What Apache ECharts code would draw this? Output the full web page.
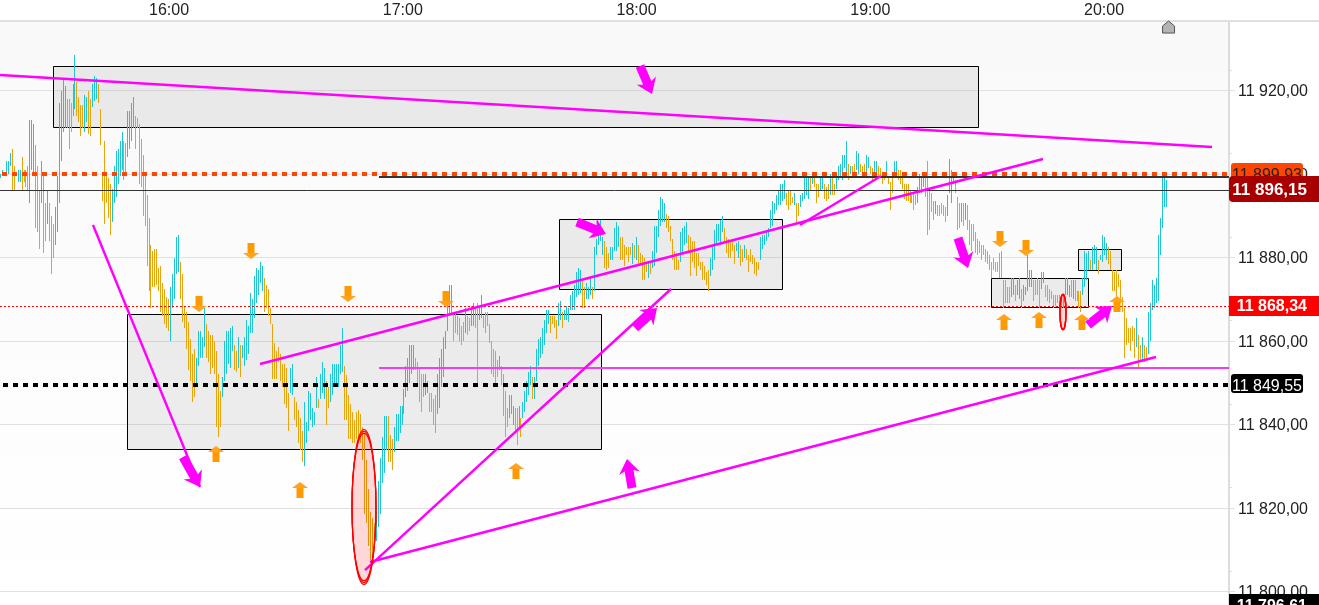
<!DOCTYPE html>
<html><head><meta charset="utf-8">
<style>html,body{margin:0;padding:0;background:#fff}#c{width:1319px;height:605px}</style>
<script src="https://cdn.jsdelivr.net/npm/echarts@6/dist/echarts.min.js"></script>
</head><body><div id="c"></div>
<script>
// Axis ranges: time in minutes of the day, price in index points
const timeMin = 916.62, timeMax = 1232.08, priceMin = 11796.77, priceMax = 11936.65;
const timeTicks = [960, 1020, 1080, 1140, 1200];
const priceTicks = [11800, 11820, 11840, 11860, 11880, 11900, 11920];
const minorPriceTicks = [11805, 11825, 11845, 11865, 11885, 11905, 11925];
// Bars: [high, low, up(1)/down(0)], each run spans the given first and last bar time
const barsASpan = [916.62, 954.86];
const barsA = [[11900,11899,1],[11901,11900,1],[11900.5,11899.5,0],[11903,11900,1],[11903,11900,1],[11905,11902,1],[11906,11896,0],[11902,11896,0],[11900,11899.5,0],[11901,11898,1],[11901,11898,1],[11904,11896,0],[11901,11898,0],[11901,11897,0],[11902,11896,0],[11913,11893,1],[11913,11901,1],[11912,11900,1],[11907,11887,0],[11902,11886,0],[11896,11882,0],[11903,11893,1],[11900,11881,0],[11893,11884,0],[11896,11888,1],[11893,11884,0],[11890,11876,0],[11888,11880,0],[11892,11883,1],[11899.5,11886,1],[11917,11893,1],[11920,11903,1],[11923,11910,1],[11921,11911,1],[11918,11911,0],[11918,11906,0],[11917,11910,0],[11921.5,11914,1],[11928.5,11915.5,1],[11922,11914,0],[11918.5,11912.5,0],[11916.5,11909,0],[11916.5,11911,0],[11919,11910,1],[11918.5,11912.5,1],[11920,11909.5,0],[11918,11909,0],[11921.5,11916,1],[11923.5,11917.5,1],[11923,11918,1],[11921.5,11917,0],[11915.5,11907,0],[11900.5,11893.5,0],[11908,11888,0],[11900.5,11893,0],[11899,11889.5,0],[11897.5,11885.5,0],[11896.5,11888.5,1],[11902,11893,1],[11905.5,11894.5,1],[11906,11897.5,1],[11908,11899.5,1],[11910,11901,1],[11908,11898.5,0],[11907.5,11900,0],[11915,11904,1],[11915,11906,1],[11917,11908,1],[11918.5,11911,1],[11914,11906,0],[11913.5,11911,0],[11912,11897.5,0],[11908.5,11897,0],[11904.5,11890,0],[11900,11887.5,0],[11895,11878,0],[11889.5,11872,0]];
const barsBSpan = [955.12, 1004.4];
const barsB = [[11883,11868,0],[11881.5,11873,0],[11882,11873,0],[11882,11873.5,0],[11877.5,11872,0],[11878,11867,0],[11874,11866,0],[11872.5,11864,0],[11870.5,11863,0],[11870,11862.5,0],[11873,11860,1],[11876,11868,1],[11880,11870,1],[11885,11876,1],[11885.5,11876.5,1],[11879,11870,0],[11876,11864.5,0],[11868.5,11863,0],[11867,11858,0],[11864.5,11853,0],[11860.5,11850.5,0],[11857,11845.5,0],[11858,11846.5,0],[11856,11850,1],[11862.5,11854,1],[11862.5,11856,1],[11861,11856,1],[11868,11858.5,1],[11864,11856,0],[11862.5,11855,0],[11861.5,11852,0],[11861.5,11853.5,0],[11860,11852,0],[11857.5,11839.5,0],[11852,11837,0],[11848,11839.5,0],[11851.5,11846.5,1],[11860,11850.5,1],[11862.5,11852,1],[11862.5,11854.5,1],[11863,11853.5,1],[11863.5,11857.5,1],[11859,11853,0],[11857.5,11852.5,0],[11861,11853.5,1],[11859,11851.5,0],[11859,11856,1],[11861,11854,1],[11865,11855.5,1],[11863.5,11857,1],[11871.5,11862,1],[11870,11862,1],[11875.5,11865.5,1],[11877.5,11869,1],[11877,11871,1],[11879,11874,1],[11878,11872,1],[11875,11867,0],[11873.5,11868,0],[11872.5,11866,0],[11868,11864,0],[11864,11851,0],[11859.5,11851,0],[11857.5,11851,0],[11858.5,11855,0],[11857,11850.5,0],[11854.5,11849,0],[11854.5,11845,0],[11853.5,11844,0],[11847.5,11838.5,0],[11853.5,11847.5,1],[11854.5,11847,1],[11846.5,11841,0],[11845.5,11839.5,0],[11843.5,11835.5,0],[11841.5,11834,0],[11838.5,11831,0],[11845.5,11830,1],[11840.5,11835.5,1],[11848,11838.5,1],[11847.5,11841,1],[11844,11839.5,1],[11843,11840,1],[11851.5,11844,1],[11846,11844,0],[11852,11846,1],[11855,11847.5,1],[11853.5,11846,1],[11850.5,11840,0],[11849,11844,0],[11852,11845.5,1],[11854.5,11847,1],[11854.5,11849,1],[11854.5,11849.5,1],[11854.5,11849,1],[11859,11852,1],[11863,11852.5,1]];
const barsCSpan = [1004.92, 1063.96];
const barsC = [[11854,11841,0],[11851.8,11841,0],[11847,11836.5,0],[11845,11836.5,0],[11843,11835.5,0],[11841,11835.5,0],[11843,11836.5,0],[11843.5,11836,0],[11842.5,11835.5,0],[11839.5,11831.5,0],[11838,11818.5,0],[11831.5,11816.5,0],[11824.5,11811,0],[11819,11807.5,0],[11817.5,11807,0],[11816.5,11812,0],[11819,11812,1],[11826.5,11815.5,1],[11832,11818.5,1],[11837,11826,1],[11842,11828.5,1],[11842,11834,1],[11842,11831,0],[11837.5,11831,0],[11836.5,11829,0],[11839.5,11833.5,1],[11842.5,11836,1],[11842.5,11836,1],[11844.5,11838,1],[11844.5,11840,1],[11848.5,11842.5,1],[11854,11846.5,1],[11856,11848,1],[11859,11850,1],[11859,11852,1],[11859,11853,1],[11856,11853,0],[11855,11850,0],[11853.5,11845.5,0],[11852,11843,0],[11852,11846.5,0],[11852,11847,1],[11850.5,11847.5,1],[11847.5,11843,0],[11847.5,11843,0],[11846,11840,0],[11847,11838,0],[11852,11842.5,1],[11856,11844,1],[11858,11849,1],[11861,11851.5,1],[11862.5,11858,1],[11869,11862.5,1],[11873.5,11866,1],[11873.5,11866.5,1],[11867,11860,0],[11867,11862,0],[11866,11861.5,0],[11865.5,11860,0],[11863.5,11859,0],[11864.5,11860,0],[11868,11862,1],[11866,11861.5,0],[11865.5,11862.5,0],[11868.5,11863.5,1],[11869,11863.5,1],[11868,11863,0],[11869,11850,0],[11868.5,11865,1],[11871,11865.5,1],[11866,11863,0],[11867,11862,0],[11867,11863.5,0],[11864,11859.5,0],[11860,11852,0],[11858,11851.5,0],[11857.5,11850,0],[11855.5,11851.5,0],[11856.5,11853,1],[11854,11849.5,0],[11852,11842,0],[11848,11837,0],[11844,11839.5,0],[11847,11841.5,1],[11847,11842.5,1],[11844.5,11840,1],[11844,11838,0],[11844,11835,0],[11844.5,11839,1],[11841.5,11837,0],[11845.5,11841.5,1],[11848,11843,1],[11850.5,11845.5,1],[11852.5,11847,1],[11854,11849.5,1],[11851.5,11846,0],[11851.5,11846,1],[11858,11850.5,1],[11860.5,11854,1],[11861,11856,1],[11863,11857,1],[11865,11859,1],[11867.5,11862,1],[11867.5,11864,1],[11866,11862,0],[11866,11864,0],[11866,11863,0],[11865,11860.5,0],[11869,11863.5,1],[11869.5,11865,1],[11867,11863,0],[11867.5,11865,1],[11868.5,11865,1],[11868,11864.5,1],[11871,11867.5,1],[11872,11867.5,1],[11873.5,11867.5,1]];
const barsDSpan = [1064.47, 1129.15];
const barsD = [[11876.5,11870.5,1],[11877.5,11871,1],[11877,11871.5,1],[11874.5,11868,0],[11873,11868,0],[11874,11870,1],[11873,11870,1],[11875,11871,1],[11873,11870,0],[11882.5,11872,1],[11884.5,11880.5,1],[11887.5,11883,1],[11889,11884,1],[11885,11880.5,1],[11884,11877.5,0],[11882.5,11877,0],[11881,11877.5,0],[11882.5,11879.5,1],[11882.5,11879.5,1],[11887,11881.5,1],[11888.5,11881.5,1],[11887.5,11882.5,1],[11885,11879.5,0],[11885,11879.5,0],[11883,11878,0],[11882.5,11880.5,0],[11882.5,11879,0],[11882.5,11880.5,0],[11883.5,11878.5,1],[11883,11880,0],[11885,11879.5,1],[11883,11878.5,0],[11881,11878.5,0],[11880.5,11874.5,0],[11880,11874.5,0],[11879,11876.5,0],[11879,11875,1],[11879,11876,0],[11881.5,11877.5,1],[11887.5,11878,1],[11887.5,11881,1],[11891.5,11885,1],[11894.5,11887.5,1],[11894,11888.5,1],[11893,11888.5,1],[11890.5,11887,0],[11890,11886,0],[11887.5,11884,0],[11884.5,11879.5,0],[11881.5,11877,0],[11881,11877,0],[11879.5,11877,0],[11886,11879,1],[11887,11881,1],[11887.5,11883,1],[11888.5,11883.5,1],[11885.5,11881.5,0],[11885,11875.5,0],[11884,11879,0],[11884,11877.5,0],[11881,11875.5,0],[11881,11878,0],[11879,11877,0],[11879,11874.5,0],[11878,11874.5,0],[11876.5,11873.5,0],[11877,11872,0],[11880,11875.5,1],[11882.5,11877,1],[11886.5,11879.5,1],[11888,11883,1],[11888,11884,1],[11889,11883,1],[11890,11886,1],[11887,11884,0],[11885,11881,0],[11884.5,11880,0],[11884,11880,0],[11884.5,11881.5,0],[11883,11878.5,0],[11883.5,11881.5,1],[11884,11880,1],[11883,11878,0],[11882,11879,0],[11883,11880,1],[11882,11879.5,0],[11880.5,11876.5,0],[11882,11879,0],[11880.5,11878.5,0],[11880,11876,0],[11879,11875.5,0],[11879,11877,0],[11885,11879.5,1],[11885.5,11882,1],[11885.5,11883,1],[11886.5,11884,1],[11887,11885,1],[11891.5,11887,1],[11893.5,11887.5,1],[11893,11890.5,1],[11895,11891.5,1],[11896,11892.5,1],[11897.5,11892.5,1],[11897.5,11893.5,1],[11898.5,11894,1],[11895.5,11892.5,0],[11896,11891.5,0],[11896,11892.5,0],[11894.5,11893,0],[11895.5,11892.5,1],[11893,11888,0],[11893,11890,0],[11895,11892,1],[11895.5,11893.5,1],[11899.5,11894,1],[11899,11895,1],[11899,11894,1],[11899,11896,0],[11900.5,11897.5,1],[11899,11897,0],[11897.5,11893,0],[11897.5,11894.5,0],[11899,11896,1],[11899,11896.5,1],[11897.5,11894,0],[11897,11893.5,0],[11897.5,11894,0]];
const barsESpan = [1129.66, 1215.9];
const barsE = [[11900,11895,1],[11899,11895,0],[11897.5,11895,0],[11899,11896.5,1],[11902,11898.5,1],[11902.5,11899.5,1],[11904.5,11898.5,1],[11904.5,11901.5,1],[11908,11900.5,1],[11902.5,11898.5,0],[11902,11900,1],[11902,11900.5,0],[11902.5,11900.5,0],[11905.5,11901,1],[11905,11900,1],[11902.5,11900.5,0],[11902,11900.5,0],[11902.5,11900,0],[11904.5,11899.5,1],[11904,11901.5,1],[11902,11900,0],[11901.5,11898,0],[11903,11900,1],[11903,11900,1],[11902,11899.5,0],[11901.5,11899.5,0],[11900.5,11897.5,0],[11900,11898.5,0],[11903,11899,1],[11899.5,11897.5,0],[11898,11891.5,0],[11900,11895.5,0],[11903,11900,1],[11903,11900,1],[11901,11898.5,0],[11901,11897.5,0],[11899.5,11896.5,0],[11897.5,11894,0],[11897.5,11893.5,0],[11897.5,11893.5,0],[11896,11893,0],[11895,11893,0],[11895.5,11891.5,0],[11895,11892.5,0],[11897,11893,1],[11900,11895.5,1],[11899.5,11895.5,1],[11899,11897,1],[11900.5,11894.5,0],[11903,11885.5,0],[11896,11886.5,0],[11895.5,11891,0],[11893.5,11889,0],[11893.5,11890.5,1],[11892.5,11890,0],[11892.5,11890,0],[11893,11890.5,0],[11892.5,11890,0],[11892,11888.5,0],[11895,11890,1],[11903.5,11895.5,1],[11901,11893,1],[11900.5,11897.5,1],[11898.5,11895.5,0],[11894.5,11886.5,0],[11893,11887,0],[11893,11888.5,1],[11893,11887.5,0],[11893,11889,1],[11892.5,11886.5,0],[11889,11883,0],[11888,11881.5,0],[11888,11884,0],[11886,11881,0],[11884.5,11880.5,0],[11884,11881,0],[11883,11879.5,0],[11883,11880.5,0],[11882,11879,0],[11881.5,11878.5,0],[11880.5,11877,0],[11879,11875,0],[11880,11877,0],[11879,11876.5,0],[11879,11876.5,0],[11881,11875,0],[11881.5,11875,0],[11874.5,11868,0],[11874.5,11869,0],[11873,11869,0],[11873,11869,0],[11875,11870.5,1],[11875,11871,1],[11873.5,11869.5,0],[11874.5,11871,1],[11875,11870,1],[11872.5,11868,0],[11873.5,11869.5,1],[11873,11871,1],[11880.5,11872,1],[11877,11873,1],[11877,11873,1],[11874.5,11869.5,0],[11874.5,11871,0],[11875,11871,0],[11874.5,11868,0],[11876.5,11872.5,1],[11876.5,11874,1],[11873.5,11870.5,0],[11873.5,11869.5,0],[11872.5,11869,0],[11872,11870,0],[11871,11868,0],[11871,11868.5,0],[11871,11869,0],[11871,11868,0],[11871,11868,0],[11871,11868,0],[11875,11871,1],[11875,11871,1],[11873.5,11870.5,1],[11874.5,11870.5,0],[11874.5,11870,1],[11874.5,11869.5,0],[11872,11869.5,0],[11872,11868,0],[11872,11867,0],[11875,11871,1],[11881.5,11873,1],[11881,11874.5,1],[11881.5,11877,1],[11879.5,11877,0],[11882.5,11877,1],[11883,11878.5,1],[11882.5,11877,1],[11879.5,11876,0],[11880.5,11879.5,1],[11885.5,11879,1],[11885,11880.5,1],[11883.5,11879.5,1],[11882.5,11878.5,0],[11881.5,11877,0],[11877,11872,0],[11876.5,11872,0],[11877,11870.5,0],[11876,11873,0],[11874.5,11869,0],[11870.5,11867,0],[11868,11856,0],[11865.5,11859,0],[11863,11859.5,0],[11863,11857.5,0],[11863.5,11860,0],[11863,11856,0],[11865.5,11858.5,1],[11861.5,11853.5,0],[11859,11855,0],[11861,11855.5,1],[11859,11855,0],[11858.5,11855.5,0],[11867,11857,1],[11869,11860,1],[11874.5,11867.5,1],[11873.5,11868,1],[11875,11869,1],[11885.5,11869.5,1],[11889.5,11880.5,1],[11899,11887,1],[11899.5,11892,1],[11898.5,11892,1]];
// Price reference levels: [price, start time]
const levelOrange = [11900, 917.13];
const levelBlack = [11849.46, 917.39];
const levelRed = [11868.26, 916.62];
const levelClose = [11896.05, 916.62];
const levelDark = [11899.28, 1013.9];
const levelMagenta = [11853.53, 1013.9];
// Trend lines: [t1, price1, t2, price2]
const trendLines = [[916.62,11923.71,1227.72,11906.47],[940.49,11887.78,967.96,11825.03],[983.36,11854.49,1184.34,11903.59],[1010.31,11805.15,1088.85,11872.46],[1011.59,11807.07,1213.34,11856.17],[1121.96,11887.78,1142.76,11899.52]];
// Zones: [t1, priceTop, t2, priceBottom]
const zones = [[930.22,11925.75,1167.53,11911.14],[949.35,11866.35,1071.01,11834.01],[1060.23,11889.1,1117.48,11872.34],[1171.12,11874.97,1195.89,11868.02],[1193.45,11881.92,1204.48,11876.89]];
// Ellipses: [t, price, radiusTime, radiusPrice]
const ellipses = [[1010.05,11820.24,3.08,18.56],[1189.47,11866.95,0.77,4.31]];
// Fat arrows: [tailT, tailPrice, tipT, tipPrice]
const fatArrows = [[1080.9,11925.87,1083.98,11919.16],[1064.72,11888.5,1072.17,11885.63],[1079.62,11863.11,1085.27,11867.9],[1078.85,11824.79,1077.56,11831.74],[963.59,11832.2,967.96,11825.03],[1162.52,11884.67,1165.09,11877.49],[1195.89,11863.83,1202.05,11868.38]];
// Signal arrows, tip position: [t, price]
const signalDown = [[967.7,11866.95],[981.05,11879.64],[1005.94,11869.34],[1031.1,11868.14],[1173.3,11882.51],[1179.97,11880.36]];
const signalUp = [[972.06,11834.85],[993.62,11826.23],[1049.07,11830.78],[1174.33,11866.47],[1183.31,11866.95],[1194.35,11866.47],[1203.34,11870.78]];
const homeMarker = [[1216.56,11935.2]];
// Price tags: [price, text]
const tagOrange = [11899.93, '11 899,93'];
const tagClose = [11896.15, '11 896,15'];
const tagRed = [11868.34, '11 868,34'];
const tagBlack = [11849.55, '11 849,55'];
const tagLow = [11796.61, '11 796,61'];

const UP = '#1fc6d2', DOWN = '#e8a40f', MAG = '#ff00ff';
const sections = [[barsASpan, barsA], [barsBSpan, barsB], [barsCSpan, barsC], [barsDSpan, barsD], [barsESpan, barsE]];
const barData = [];
sections.forEach(([span, rows]) => rows.forEach((r, i) => barData.push([span[0] + i * (span[1] - span[0]) / (rows.length - 1), r[0], r[1], r[2]])));

const fmtPrice = v => v.toFixed(2).replace('.', ',').replace(/^(\d+)(\d{3}),/, '$1 $2,');
const fmtTime = v => String(Math.floor(v / 60)).padStart(2, '0') + ':' + String(Math.round(v % 60)).padStart(2, '0');

function hLine(level, color, width, type) {
  return { type: 'line', data: [[level[1], level[0]], [timeMax, level[0]]], showSymbol: false, silent: true, z: 4,
    lineStyle: { color, width, type, cap: 'butt' } };
}
function tagSeries(tag, opt) {
  return { type: 'custom', silent: true, z: opt.z, data: [[timeMax, tag[0]]], renderItem(p, api) {
    const c = api.coord([api.value(0), api.value(1)]);
    const right = p.coordSys.x + p.coordSys.width;
    return { type: 'group', children: [
      { type: 'rect', shape: { x: right + opt.dx, y: Math.round(c[1] - opt.h / 2) + opt.dy, width: opt.w, height: opt.h, r: opt.r }, style: { fill: opt.fill } },
      { type: 'text', style: { text: tag[1], x: right + opt.tx, y: Math.round(c[1]) + 0.5 + (opt.textDy || 0), align: opt.align, verticalAlign: 'middle', fill: opt.color, font: opt.font } }
    ] };
  } };
}

const chart = echarts.init(document.getElementById('c'), null, { renderer: 'canvas' });
chart.setOption({
  animation: false,
  backgroundColor: '#fff',
  textStyle: { fontFamily: 'Liberation Sans' },
  graphic: [{ type: 'rect', z: 0, silent: true, shape: { x: 0, y: 20, width: 1319, height: 2 }, style: { fill: '#e0e0e0' } }],
  grid: { left: 0, right: 90, top: 21, bottom: 0, show: true, borderWidth: 0,
    backgroundColor: { type: 'linear', x: 0, y: 0, x2: 0, y2: 1, colorStops: [{ offset: 0, color: '#f9f9f9' }, { offset: 1, color: '#ffffff' }] } },
  xAxis: { type: 'value', position: 'top', min: timeMin, max: timeMax, splitLine: { show: false },
    axisLine: { onZero: false, lineStyle: { color: '#e0e0e0', width: 2 } }, axisTick: { show: false },
    axisLabel: { customValues: timeTicks, formatter: fmtTime, fontSize: 16, color: '#222', margin: 2, fontFamily: 'Liberation Sans', hideOverlap: false } },
  yAxis: { type: 'value', position: 'right', min: priceMin, max: priceMax,
    axisLine: { show: true, onZero: false, lineStyle: { color: '#dcdcdc', width: 2 } },
    axisTick: { show: true, customValues: priceTicks, length: 6, lineStyle: { color: '#e0e0e0', width: 1 } },
    splitLine: { show: true, lineStyle: { color: '#e0e0e0', width: 1 } },
    axisLabel: { customValues: priceTicks, formatter: fmtPrice, fontSize: 16, color: '#222', margin: 9, verticalAlign: 'top', lineHeight: 3, fontFamily: 'Liberation Sans', hideOverlap: false, showMinLabel: true, showMaxLabel: true } },
  series: [
    { type: 'custom', silent: true, z: 2, data: zones, renderItem(p, api) {
      const a = api.coord([api.value(0), api.value(1)]), b = api.coord([api.value(2), api.value(3)]);
      return { type: 'rect', shape: { x: Math.floor(a[0] + 0.2) + 0.5, y: Math.floor(a[1] + 0.2) + 0.5, width: Math.round(b[0] - a[0]), height: Math.round(b[1] - a[1]) },
        style: { fill: 'rgba(120,120,120,0.13)', stroke: '#000', lineWidth: 1 } };
    } },
    { type: 'custom', silent: true, z: 3, data: barData, renderItem(p, api) {
      const a = api.coord([api.value(0), api.value(1)]), b = api.coord([api.value(0), api.value(2)]);
      const top = Math.round(a[1]);
      return { type: 'rect', shape: { x: Math.round(a[0]), y: top, width: 1, height: Math.max(1, Math.round(b[1]) - top) },
        style: { fill: api.value(3) ? UP : DOWN } };
    } },
    { type: 'custom', silent: true, z: 4, data: minorPriceTicks.map(v => [timeMax, v]), renderItem(p, api) {
      const c = api.coord([api.value(0), api.value(1)]);
      return { type: 'line', shape: { x1: c[0], y1: Math.round(c[1]) + 0.5, x2: c[0] + 3, y2: Math.round(c[1]) + 0.5 }, style: { stroke: '#dcdcdc', lineWidth: 1 } };
    } },
    hLine(levelClose, '#333', 1, 'solid'),
    hLine(levelDark, '#333', 2, 'solid'),
    hLine(levelRed, '#ff0000', 1, [2, 2]),
    hLine(levelOrange, '#ff4500', 4, [5, 5]),
    hLine(levelBlack, '#000', 4, [5, 5]),
    hLine(levelMagenta, '#f53cf5', 2, 'solid'),
    ...trendLines.map(t => ({ type: 'line', data: [[t[0], t[1]], [t[2], t[3]]], showSymbol: false, silent: true, z: 5, lineStyle: { color: MAG, width: 2.4 } })),
    { type: 'custom', silent: true, z: 6, data: ellipses, renderItem(p, api) {
      const c = api.coord([api.value(0), api.value(1)]);
      const rx = api.size([api.value(2), 0])[0], ry = api.size([0, api.value(3)])[1];
      return { type: 'group', children: [
        { type: 'ellipse', shape: { cx: c[0], cy: c[1], rx, ry }, style: { fill: 'rgba(255,0,0,0.15)', stroke: '#ff0000', lineWidth: 1.2 } },
        { type: 'ellipse', shape: { cx: c[0], cy: c[1], rx, ry: ry * 0.975 }, style: { fill: 'none', stroke: '#ff0000', lineWidth: 1.2 } },
        { type: 'ellipse', shape: { cx: c[0], cy: c[1], rx, ry: ry * 0.95 }, style: { fill: 'none', stroke: '#ff0000', lineWidth: 1.2 } }
      ] };
    } },
    { type: 'custom', silent: true, z: 7, data: fatArrows, renderItem(p, api) {
      const a = api.coord([api.value(0), api.value(1)]), b = api.coord([api.value(2), api.value(3)]);
      const dx = b[0] - a[0], dy = b[1] - a[1], L = Math.hypot(dx, dy), ux = dx / L, uy = dy / L, nx = -uy, ny = ux;
      const pt = (along, off) => [a[0] + ux * along + nx * off, a[1] + uy * along + ny * off];
      return { type: 'polygon', shape: { points: [pt(0, 4.5), pt(L - 12, 4.5), pt(L - 14.5, 10.5), b, pt(L - 14.5, -10.5), pt(L - 12, -4.5), pt(0, -4.5)] }, style: { fill: MAG } };
    } },
    ...[[signalDown, 1], [signalUp, -1]].map(([rows, dir]) => ({ type: 'custom', silent: true, z: 7, data: rows, renderItem(p, api) {
      const c = api.coord([api.value(0), api.value(1)]);
      const x = Math.round(c[0]), y = c[1];
      return { type: 'group', children: [
        { type: 'rect', shape: { x: x - 3.5, y: dir > 0 ? y - 16 : y + 5, width: 7, height: 11 }, style: { fill: '#ff9900' } },
        { type: 'polygon', shape: { points: [[x - 8, y - dir * 6], [x + 8, y - dir * 6], [x, y]] }, style: { fill: '#ffa31f' } }
      ] };
    } })),
    { type: 'custom', silent: true, z: 7, data: homeMarker, renderItem(p, api) {
      const c = api.coord([api.value(0), api.value(1)]);
      const x = c[0], y = c[1];
      return { type: 'polygon', shape: { points: [[x - 6, y - 1], [x, y - 6], [x + 6, y - 1], [x + 6, y + 6], [x - 6, y + 6]] }, style: { fill: '#b4b4b4', stroke: '#555', lineWidth: 1 } };
    } },
    tagSeries(tagOrange, { z: 20, dx: 2, w: 72, h: 20, dy: -1, r: 3, fill: '#ff4500', tx: 3, align: 'left', color: '#222', font: '16px "Liberation Sans"', textDy: 1 }),
    tagSeries(tagBlack, { z: 20, dx: 2, w: 72, h: 19, dy: -1, r: 3, fill: '#000', tx: 3, align: 'left', color: '#fff', font: '16px "Liberation Sans"', textDy: 1 }),
    tagSeries(tagClose, { z: 21, dx: 0, w: 90, h: 26, dy: -1, r: [4, 0, 0, 4], fill: '#a80000', tx: 78, align: 'right', color: '#fff', font: 'bold 17px "Liberation Sans"' }),
    tagSeries(tagRed, { z: 21, dx: 0, w: 90, h: 20, dy: 0, r: 0, fill: '#ff0000', tx: 78, align: 'right', color: '#fff', font: 'bold 16px "Liberation Sans"' }),
    tagSeries(tagLow, { z: 21, dx: 0, w: 90, h: 24, dy: 0, r: 0, fill: '#000', tx: 78, align: 'right', color: '#fff', font: 'bold 16px "Liberation Sans"' })
  ]
});
</script></body></html>
